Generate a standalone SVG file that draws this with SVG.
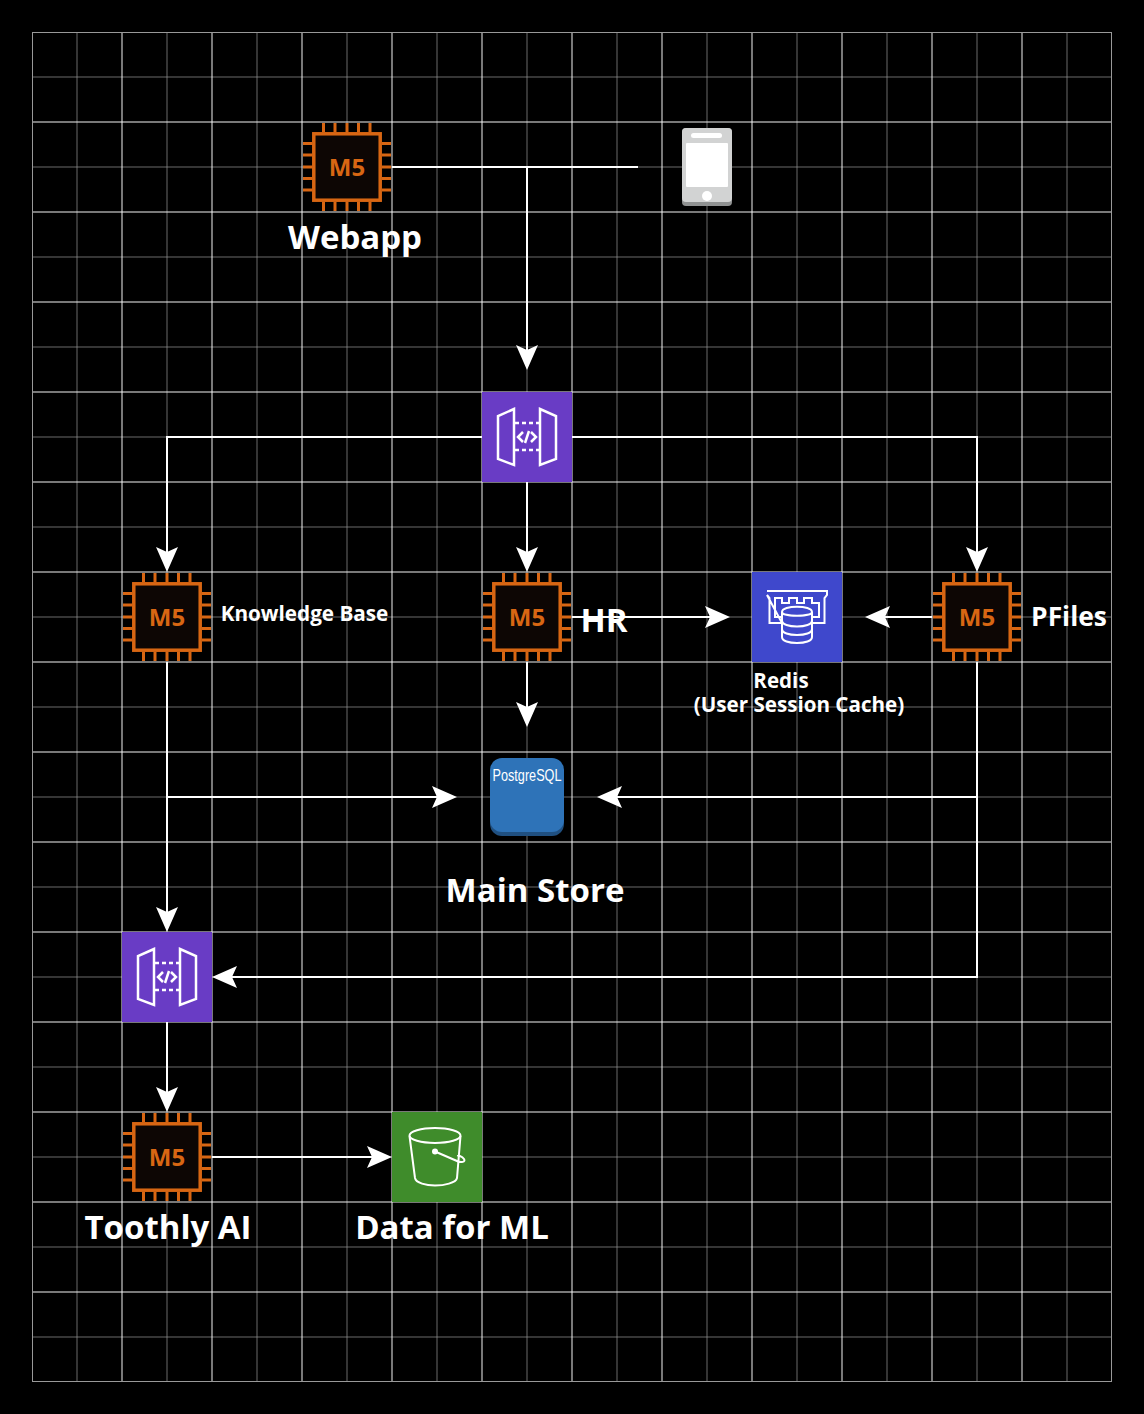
<svg xmlns="http://www.w3.org/2000/svg" xmlns:xlink="http://www.w3.org/1999/xlink" width="1144" height="1414" viewBox="0 0 1144 1414">
<style>
.lbl{font-family:"Open Sans","Noto Sans",sans-serif;font-weight:700;fill:#fff;text-anchor:middle}
.conn{fill:none;stroke:#fff;stroke-width:2;marker-end:url(#arr)}
.plain{fill:none;stroke:#fff;stroke-width:2}
.ic{fill:none;stroke:#fff;stroke-width:2}
.ic2{fill:none;stroke:#fff;stroke-width:2.500}
.pin{stroke:#d86613;stroke-width:3;fill:none}
</style>
<defs>
<marker id="arr" markerUnits="userSpaceOnUse" markerWidth="30" markerHeight="26" viewBox="0 -13 30 26" refX="21" refY="0" orient="auto" overflow="visible"><path d="M0,-11 L25,0 L0,11 L5,0 Z" fill="#fff"/></marker>
<g id="chip">
<rect x="11.800" y="11.800" width="66.400" height="66.400" fill="#0d0604" stroke="#d86613" stroke-width="3.500"/>
<path class="pin" d="M21.500,1V10M33,1V10M45,1V10M56.500,1V10M68,1V10M21.500,80V89M33,80V89M45,80V89M56.500,80V89M68,80V89M1,21.500H10M1,33H10M1,45H10M1,56.500H10M1,68H10M80,21.500H89M80,33H89M80,45H89M80,56.500H89M80,68H89"/>
<text x="45" y="53.500" text-anchor="middle" font-family="'Open Sans',sans-serif" font-weight="700" font-size="24" fill="#d86613">M5</text>
</g>
<g id="api">
<rect x="0" y="0" width="90" height="90" fill="#693cc5"/>
<path class="ic2" d="M32,17L16,24V67L32,73ZM58,17L74,24V67L58,73Z"/>
<path class="ic2" d="M33,31H57M33,58H57" stroke-dasharray="4 3"/>
<path class="ic2" d="M41,40L36,45L41,50M49,40L54,45L49,50M47,39L43,51"/>
</g>
</defs>
<rect width="1144" height="1414" fill="#000"/>
<g id="grid" fill="none">
<path stroke="#999" stroke-opacity=".7" d="M77,32V1382M257,32V1382M347,32V1382M437,32V1382M527,32V1382M617,32V1382M707,32V1382M797,32V1382M887,32V1382M977,32V1382M1067,32V1382M167,32V1382M32,77H1112M32,167H1112M32,257H1112M32,347H1112M32,437H1112M32,527H1112M32,617H1112M32,707H1112M32,797H1112M32,887H1112M32,977H1112M32,1067H1112M32,1157H1112M32,1247H1112M32,1337H1112"/>
<path stroke="#fff" stroke-opacity=".95" d="M122,32V1382M212,32V1382M302,32V1382M392,32V1382M482,32V1382M572,32V1382M662,32V1382M752,32V1382M842,32V1382M932,32V1382M1022,32V1382M32,122H1112M32,212H1112M32,302H1112M32,392H1112M32,482H1112M32,572H1112M32,662H1112M32,752H1112M32,842H1112M32,932H1112M32,1022H1112M32,1112H1112M32,1202H1112M32,1292H1112"/>
<rect x="32.500" y="32.500" width="1079" height="1349" stroke="#999"/>
</g>
<g id="connectors">
<path class="plain" d="M392,167H638"/>
<path class="conn" d="M527,167V366"/>
<path class="conn" d="M482,437H167V568"/>
<path class="conn" d="M572,437H977V568"/>
<path class="conn" d="M527,482V568"/>
<path class="conn" d="M572,617H726"/>
<path class="conn" d="M527,662V723"/>
<path class="conn" d="M932,617H869"/>
<path class="conn" d="M167,662V928"/>
<path class="conn" d="M167,797H453"/>
<path class="conn" d="M977,662V977H216"/>
<path class="conn" d="M977,797H601"/>
<path class="conn" d="M167,1022V1108"/>
<path class="conn" d="M212,1157H388"/>
</g>
<g id="webapp"><use href="#chip" x="302" y="122"/><text class="lbl" x="355" y="249" font-size="33">Webapp</text></g>
<g id="phone">
<rect x="682" y="128" width="50" height="78" rx="4" fill="#8f9191"/>
<rect x="682" y="128" width="50" height="74" rx="4" fill="#d2d3d3"/>
<rect x="691" y="133" width="31" height="5" rx="2.500" fill="#fff"/>
<rect x="686" y="143" width="42" height="44" rx="1" fill="#fff"/>
<circle cx="707" cy="196" r="5" fill="#fff"/>
</g>
<g id="gateway-top"><use href="#api" x="482" y="392"/></g>
<g id="knowledge-base"><use href="#chip" x="122" y="572"/><text class="lbl" x="304.500" y="621" font-size="20.700">Knowledge Base</text></g>
<g id="hr"><use href="#chip" x="482" y="572"/><text class="lbl" x="604" y="632" font-size="33">HR</text></g>
<g id="pfiles"><use href="#chip" x="932" y="572"/><text class="lbl" x="1069" y="626" font-size="26.400">PFiles</text></g>
<g id="redis">
<rect x="752" y="572" width="90" height="90" fill="#3f48cc"/>
<path class="ic" d="M767,591H827V595L824.500,598V623H812M782,623H769.500V598L767,595Z"/>
<path class="ic" d="M782,617H775V598H782V603H789V598H797V603H804V598H812V603H819V617H812"/>
<path d="M782,612V637C782,641 789,643 797,643C805,643 812,641 812,637V612C812,605 782,605 782,612Z" fill="#3f48cc" stroke="#fff" stroke-width="2"/>
<path class="ic" d="M782,612C782,617 812,617 812,612M782,620.500C782,624.500 789,626.500 797,626.500C805,626.500 812,624.500 812,620.500M782,629C782,633 789,635 797,635C805,635 812,633 812,629"/>
<text class="lbl" x="781" y="688" font-size="20.600">Redis</text>
<text class="lbl" x="799" y="712" font-size="20.600">(User Session Cache)</text>
</g>
<g id="postgres">
<rect x="490" y="762" width="74" height="74" rx="12" fill="#205081"/>
<rect x="490" y="758" width="74" height="74" rx="12" fill="#2e73b8"/>
<text x="527" y="781" text-anchor="middle" font-family="'Liberation Sans',sans-serif" font-size="17" textLength="69" lengthAdjust="spacingAndGlyphs" fill="#fff">PostgreSQL</text>
<text class="lbl" x="535" y="902" font-size="33">Main Store</text>
</g>
<g id="gateway-bottom"><use href="#api" x="122" y="932"/></g>
<g id="toothly"><use href="#chip" x="122" y="1112"/><text class="lbl" x="168" y="1239" font-size="33">Toothly AI</text></g>
<g id="s3">
<rect x="392" y="1112" width="90" height="90" fill="#3f8c2b"/>
<ellipse class="ic" cx="435" cy="1135.500" rx="25.500" ry="7.500"/>
<path class="ic" d="M409.500,1136L415,1178C416,1183 426,1185.500 435,1185.500C444,1185.500 456,1183 457,1178L460.500,1136"/>
<path class="ic" d="M435,1151.500L457,1161C461,1163 466,1162 464,1159C462,1156 457,1155 458,1156"/>
<circle cx="435" cy="1151.500" r="3" fill="#fff"/>
<text class="lbl" x="452" y="1239" font-size="33">Data for ML</text>
</g>
</svg>
